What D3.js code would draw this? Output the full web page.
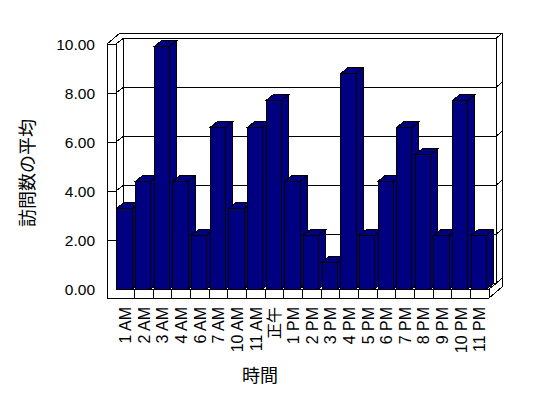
<!DOCTYPE html>
<html>
<head>
<meta charset="utf-8">
<script src="https://cdn.jsdelivr.net/npm/d3@7"></script>
<style>
  body { margin: 0; background: #fff; }
  text { font-family: "Liberation Sans", Arial, "Noto Sans CJK JP", sans-serif; fill: #000; }
</style>
</head>
<body>
<div id="chart"></div>
<script>
// hours and average visit counts
var categories = ["1 AM", "2 AM", "3 AM", "4 AM", "6 AM", "7 AM", "10 AM", "11 AM", "正午",
    "1 PM", "2 PM", "3 PM", "4 PM", "5 PM", "6 PM", "7 PM", "8 PM", "9 PM", "10 PM", "11 PM"];
var values = [3.3, 4.4, 9.9, 4.4, 2.2, 6.6, 3.3, 6.6, 7.7, 4.4,
    2.2, 1.1, 8.8, 2.2, 4.4, 6.6, 5.5, 2.2, 7.7, 2.2];
var yTicks = [0, 2, 4, 6, 8, 10];
var yTitle = "訪問数の平均";
var xTitle = "時間";

var width = 548, height = 398;
var left = 116, right = 489, wallX = 107, floorBottom = 298;
var dx = 7, dy = -5.5;      // depth of the inner plane
var ox = 13, oy = -11;      // outer edge of the walls

var svg = d3.select("#chart")
    .append("svg")
    .attr("width", width)
    .attr("height", height);

var x = d3.scaleBand()
    .domain(categories)
    .range([left, right])
    .padding(0);

var y = d3.scaleLinear()
    .domain([0, 10])
    .range([289, 44]);

var line = d3.line();
function path(pts, closed) {
    return line(pts) + (closed ? "Z" : "");
}

var frame = svg.append("g")
    .attr("fill", "none")
    .attr("stroke", "#000")
    .attr("shape-rendering", "crispEdges");

// outline of walls and floor
frame.append("path")
    .attr("fill", "#fff")
    .attr("d", path([[wallX, floorBottom], [wallX, y(10)], [wallX + ox, y(10) + oy],
        [right + ox, y(10) + oy], [right + ox, floorBottom + oy], [right, floorBottom]], true));

// back wall
frame.append("rect")
    .attr("x", left + dx)
    .attr("y", y(10) + dy)
    .attr("width", right - left)
    .attr("height", y(0) - y(10));

// left wall edge, floor edges, corners
frame.append("path").attr("d", path([[left, y(10)], [left, y(0)], [right, y(0)], [right, floorBottom]]));
frame.append("path").attr("d", path([[right, y(0)], [right + dx, y(0) + dy]]));
frame.append("path").attr("d", path([[right + dx, y(10) + dy], [right + ox, y(10) + oy]]));

// gridlines
frame.selectAll(".grid")
    .data(yTicks)
    .enter()
    .append("path")
    .attr("class", "grid")
    .attr("d", function(t) {
        var yy = y(t);
        var pts = t === 0
            ? [[right + dx, yy + dy], [right + ox, yy + oy]]
            : [[wallX, yy], [left, yy], [left + dx, yy + dy], [right + dx, yy + dy], [right + ox, yy + oy]];
        return path(pts);
    });

// floor ticks
frame.selectAll(".ftick")
    .data(categories.slice(1))
    .enter()
    .append("line")
    .attr("x1", function(d) { return x(d); })
    .attr("x2", function(d) { return x(d); })
    .attr("y1", y(0))
    .attr("y2", floorBottom);

// bars
var bw = x.step() * 0.82, off = x.step() * 0.05;
var bars = svg.append("g")
    .attr("fill", "#000080")
    .attr("stroke", "#000")
    .attr("shape-rendering", "crispEdges");

categories.forEach(function(c, i) {
    var x0 = x(c) + off, x1 = x0 + bw, yt = y(values[i]), yb = y(0);
    var g = bars.append("g");
    g.append("path").attr("d", path([[x1, yt], [x1 + dx, yt + dy], [x1 + dx, yb + dy], [x1, yb]], true));
    g.append("path").attr("d", path([[x0, yt], [x0 + dx, yt + dy], [x1 + dx, yt + dy], [x1, yt]], true));
    g.append("rect")
        .attr("x", x0)
        .attr("y", yt)
        .attr("width", bw)
        .attr("height", yb - yt);
});

// y tick labels
svg.selectAll(".ylabel")
    .data(yTicks)
    .enter()
    .append("text")
    .attr("x", 95)
    .attr("y", function(t) { return y(t) + 1; })
    .attr("dy", "0.35em")
    .attr("text-anchor", "end")
    .style("font-size", "15.5px")
    .text(function(t) { return d3.format(".2f")(t); });

// x tick labels
svg.selectAll(".xlabel")
    .data(categories)
    .enter()
    .append("text")
    .attr("transform", function(d) {
        return "translate(" + (x(d) + x.bandwidth() / 2) + ",307)rotate(-90)";
    })
    .attr("dy", "0.36em")
    .attr("text-anchor", "end")
    .style("font-size", "16px")
    .text(function(d) { return d; });

// axis titles
svg.append("text")
    .attr("transform", "translate(28,173)rotate(-90)")
    .attr("dy", "0.35em")
    .attr("text-anchor", "middle")
    .style("font-size", "18px")
    .text(yTitle);

svg.append("text")
    .attr("x", 260)
    .attr("y", 376)
    .attr("dy", "0.35em")
    .attr("text-anchor", "middle")
    .style("font-size", "18px")
    .text(xTitle);
</script>
</body>
</html>
